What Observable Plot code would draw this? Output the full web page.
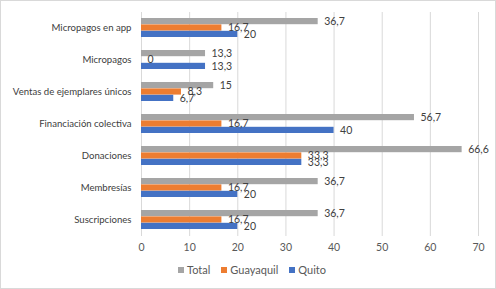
<!DOCTYPE html>
<html>
<head>
<meta charset="utf-8">
<script src="https://cdn.jsdelivr.net/npm/d3@7"></script>
<script src="https://cdn.jsdelivr.net/npm/@observablehq/plot@0.6"></script>
<style>
  html, body { margin: 0; padding: 0; background: #fff; }
  #wrap { position: relative; width: 496px; height: 289px; overflow: hidden; font-family: Lato, "Open Sans", sans-serif; }
  #frame { position: absolute; left: 0; top: 0; width: 496px; height: 289px; box-sizing: border-box; border: 1px solid #d9d9d9; pointer-events: none; }
  #legend { display: flex; justify-content: center; gap: 11px; margin-top: 5px; font-size: 11px; color: #595959; line-height: 14px; padding-left: 8px; }
  #legend span.sw { display: inline-block; width: 6px; height: 6px; margin-right: 3px; vertical-align: 1px; }
</style>
</head>
<body>
<div id="wrap"><div id="chart"></div><div id="legend"></div><div id="frame"></div></div>
<script>
const categories = ["Micropagos en app", "Micropagos", "Ventas de ejemplares únicos", "Financiación colectiva", "Donaciones", "Membresías", "Suscripciones"];
const total =     [36.7, 13.3, 15,  56.7, 66.6, 36.7, 36.7];
const guayaquil = [16.7, 0,    8.3, 16.7, 33.3, 16.7, 16.7];
const quito =     [20,   13.3, 6.7, 40,   33.3, 20,   20];
const seriesNames = ["Total", "Guayaquil", "Quito"];
const seriesColors = ["#A5A5A5", "#ED7D31", "#4472C4"];
const xTicks = [0, 10, 20, 30, 40, 50, 60, 70];

const seriesValues = [total, guayaquil, quito];
const rows = seriesNames.map((s, i) => categories.map((c, j) => ({category: c, series: s, value: seriesValues[i][j]})));

const H = 258, mTop = 12, mBottom = 22;
const step = (H - mTop - mBottom) / categories.length;
const bw = step * 0.6;
const third = bw / 3;
const fmt = v => String(v).replace(".", ",");

const marks = [];
rows.forEach((data, i) => {
  marks.push(Plot.barX(data, {
    x: "value", y: "category", fill: seriesColors[i],
    insetTop: third * i, insetBottom: third * (2 - i)
  }));
});
rows.forEach((data, i) => {
  marks.push(Plot.text(data, {
    x: "value", y: "category", text: d => fmt(d.value),
    dx: 6, dy: third * (i - 1), textAnchor: "start",
    fill: "#404040", fontSize: 10.5
  }));
});

const chart = Plot.plot({
  width: 496, height: H,
  marginLeft: 141, marginRight: 18, marginTop: mTop, marginBottom: mBottom,
  style: {fontFamily: "Lato, 'Open Sans', sans-serif", fontSize: "11px", color: "#595959", background: "#fff"},
  x: {domain: [0, 70], label: null},
  y: {domain: categories, paddingInner: 0.4, paddingOuter: 0.2, label: null},
  marks: [
    Plot.gridX(xTicks, {stroke: "#d9d9d9", strokeOpacity: 1}),
    Plot.axisX(xTicks, {tickSize: 0, tickPadding: 7, fontSize: 10.5, fill: "#595959", label: null}),
    Plot.axisY({tickSize: 0, tickPadding: 10, fontSize: 9.6, fill: "#404040", label: null}),
    ...marks
  ]
});
document.getElementById("chart").appendChild(chart);

const legend = document.getElementById("legend");
seriesNames.forEach((s, i) => {
  const item = document.createElement("span");
  item.innerHTML = `<span class="sw" style="background:${seriesColors[i]}"></span>${s}`;
  legend.appendChild(item);
});
</script>
</body>
</html>
